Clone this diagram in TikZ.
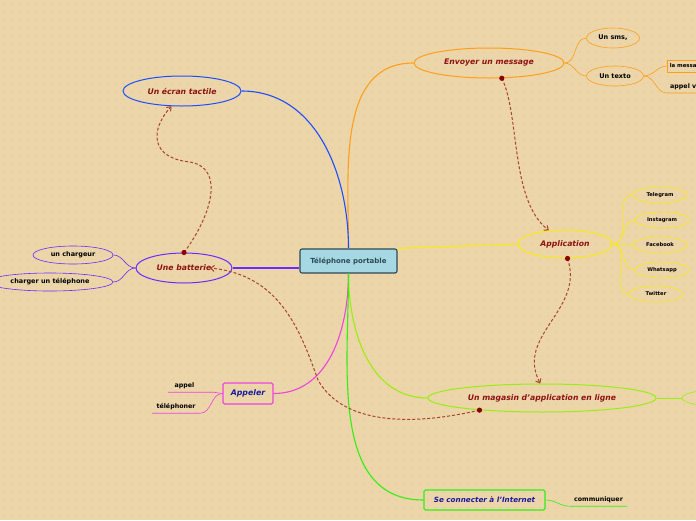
\documentclass[tikz,border=0pt]{standalone}
\usepackage{fontspec}
\setmainfont{DejaVu Sans}
\usetikzlibrary{shapes.geometric,arrows.meta}
\definecolor{bg}{HTML}{EBD5A9}
\definecolor{dotc}{HTML}{DCC396}
\definecolor{cfill}{HTML}{A6D8E4}
\definecolor{cborder}{HTML}{2E4A55}
\definecolor{corange}{HTML}{FF9E1A}
\definecolor{cyellow}{HTML}{F8EC10}
\definecolor{clime}{HTML}{99EE11}
\definecolor{cgreen}{HTML}{33EE11}
\definecolor{cmagenta}{HTML}{EE44DD}
\definecolor{cpurple}{HTML}{6A2BFF}
\definecolor{cblue}{HTML}{1E4DFF}
\definecolor{tred}{HTML}{8E1212}
\definecolor{tblue}{HTML}{1A1A9E}
\definecolor{depc}{HTML}{A8432E}
\definecolor{dotred}{HTML}{8B0000}
\tikzset{
  mainbox/.style={rectangle, rounded corners=2pt, fill=cfill, draw=cborder, line width=1.1pt,
    minimum width=97pt, minimum height=24pt, inner sep=0pt, text=cborder,
    font=\bfseries\fontsize{7}{8}\selectfont},
  bigell/.style={ellipse, line width=1pt, inner sep=0pt, text=tred,
    font=\bfseries\itshape\fontsize{7.7}{9}\selectfont},
  subell/.style={ellipse, line width=0.6pt, inner sep=0pt, text=black,
    font=\bfseries\fontsize{6.5}{7}\selectfont},
  tinyell/.style={ellipse, draw=cyellow, line width=0.6pt, inner sep=0pt, text=black,
    minimum width=54pt, minimum height=16pt, font=\bfseries\fontsize{5.2}{6}\selectfont},
  bigrect/.style={rectangle, rounded corners=1.5pt, line width=1.2pt, inner sep=0pt, text=tblue,
    font=\bfseries\itshape\fontsize{7.2}{8.5}\selectfont},
  plain/.style={inner sep=0pt, minimum height=12pt, text=black,
    font=\bfseries\fontsize{6.3}{7}\selectfont},
  mainline/.style={line width=1.1pt},
  subline/.style={line width=0.6pt},
  dep/.style={draw=depc, line width=1pt, dash pattern=on 3pt off 2pt,
    -{Straight Barb[length=3.5pt,width=6pt]}},
}
\begin{document}
\begin{tikzpicture}[x=1pt,y=-1pt]
\useasboundingbox (0,0) rectangle (696,520);
\clip (0,0) rectangle (696,520);
\fill[bg] (0,0) rectangle (696,520);
\foreach \i in {0,...,87} {\foreach \j in {0,...,65} {\fill[dotc] (\i*8+4,\j*8+4) circle (0.55);}}

% nodes
\node[mainbox] (c) at (348.5,261) {Téléphone portable};
\node[bigell, draw=corange, minimum width=150pt, minimum height=30pt] (env) at (489,63) {Envoyer un message};
\node[subell, draw=corange, minimum width=53pt, minimum height=20pt] (sms) at (613,38) {Un sms,};
\node[subell, draw=corange, minimum width=57pt, minimum height=20pt] (texto) at (615,76) {Un texto};
\node[rectangle, draw=corange, line width=0.6pt, anchor=west, minimum height=12pt, inner sep=2.5pt,
  font=\bfseries\fontsize{5.4}{6}\selectfont] (mess) at (667,66) {la message};
\node[plain, anchor=south west] (appv) at (667,93) {\hspace{3pt}appel vidéo};

\node[bigell, draw=cyellow, minimum width=94pt, minimum height=28pt] (app) at (565,244) {Application};
\node[tinyell] (tg) at (660,195) {Telegram};
\node[tinyell] (ig) at (662,220) {Instagram};
\node[tinyell] (fb) at (660,245) {Facebook};
\node[tinyell] (wa) at (662,270) {Whatsapp};
\node[tinyell] (tw) at (656,294) {Twitter};

\node[bigell, draw=clime, minimum width=228pt, minimum height=28pt] (mag) at (542,398) {Un magasin d'application en ligne};
\node[ellipse, draw=clime, line width=0.6pt, minimum width=68pt, minimum height=16pt] (magc) at (716,398) {};

\node[bigrect, draw=cgreen, minimum width=121pt, minimum height=20pt] (se) at (484.5,500) {Se connecter à l'Internet};
\node[plain, minimum width=57pt] (comm) at (598.5,500) {communiquer};

\node[bigrect, draw=cmagenta, minimum width=50pt, minimum height=21pt, font=\bfseries\itshape\fontsize{7.8}{9}\selectfont] (call) at (248,393.5) {Appeler};
\node[plain, minimum width=45pt] (appel) at (190.5,386) {\hspace{-12pt}appel};
\node[plain, minimum width=48pt] (tel) at (176,407) {téléphoner};

\node[bigell, draw=cpurple, minimum width=96pt, minimum height=30pt] (bat) at (184,268) {Une batterie};
\node[subell, draw=cpurple, minimum width=80pt, minimum height=18pt] (chg) at (73,255) {un chargeur};
\node[subell, draw=cpurple, minimum width=126pt, minimum height=18pt] (chgt) at (50,282) {charger un téléphone};

\node[bigell, draw=cblue, minimum width=118pt, minimum height=30pt] (ecran) at (182,91) {Un écran tactile};

% main connectors
\draw[mainline, corange] (c.north) to[out=90,in=180] (env.west);
\draw[mainline, cblue] (c.north) to[out=90,in=0] (ecran.east);
\draw[mainline, cyellow] (c.north east) -- (app.west);
\draw[mainline, cpurple] (bat.east) -- (bat.east -| c.west);
\draw[mainline, cmagenta] (c.south) to[out=-90,in=0] (call.east);
\draw[mainline, clime] (c.south) to[out=-90,in=180] (mag.west);
\draw[mainline, cgreen] (c.south) to[out=-90,in=180] (se.west);

% sub connectors
\draw[subline, corange] (env.east) to[out=0,in=180] (sms.west);
\draw[subline, corange] (env.east) to[out=0,in=180] (texto.west);
\draw[subline, corange] (texto.east) to[out=0,in=180] (mess.west);
\draw[subline, corange] (texto.east) to[out=0,in=180] (appv.south west) -- (appv.south east);
\foreach \n in {tg,ig,fb,wa,tw} {\draw[subline, cyellow] (app.east) to[out=0,in=180] (\n.west);}
\draw[subline, clime] (mag.east) -- (magc.west);
\draw[subline, cgreen] (se.east) to[out=0,in=180] (comm.south west) -- (comm.south east);
\draw[subline, cmagenta] (call.west) to[out=180,in=0] (appel.south east) -- (appel.south west);
\draw[subline, cmagenta] (call.west) to[out=180,in=0] (tel.south east) -- (tel.south west);
\draw[subline, cpurple] (bat.west) to[out=180,in=0] (chg.east);
\draw[subline, cpurple] (bat.west) to[out=180,in=0] (chgt.east);

% dependency arrows
\coordinate (p1) at (190,162);
\coordinate (p4) at (318,380);
\coordinate (batin) at (210,268);
\draw[dep] (bat.north) .. controls (212,215) and (225,168) .. (p1) .. controls (150,158) and (150,130) .. (ecran.-125);
\draw[dep] (env.-50) .. controls (520,115) and (510,200) .. (app.140);
\draw[dep] (app.-80) .. controls (585,310) and (515,335) .. (mag.97);
\draw[dep] (mag.-169) .. controls (420,424) and (345,428) .. (p4) .. controls (300,330) and (280,275) .. (batin);
\fill[dotred] (bat.north) circle (2.6);
\fill[dotred] (env.-50) circle (2.6);
\fill[dotred] (app.-80) circle (2.6);
\fill[dotred] (mag.-169) circle (2.6);
\end{tikzpicture}
\end{document}
